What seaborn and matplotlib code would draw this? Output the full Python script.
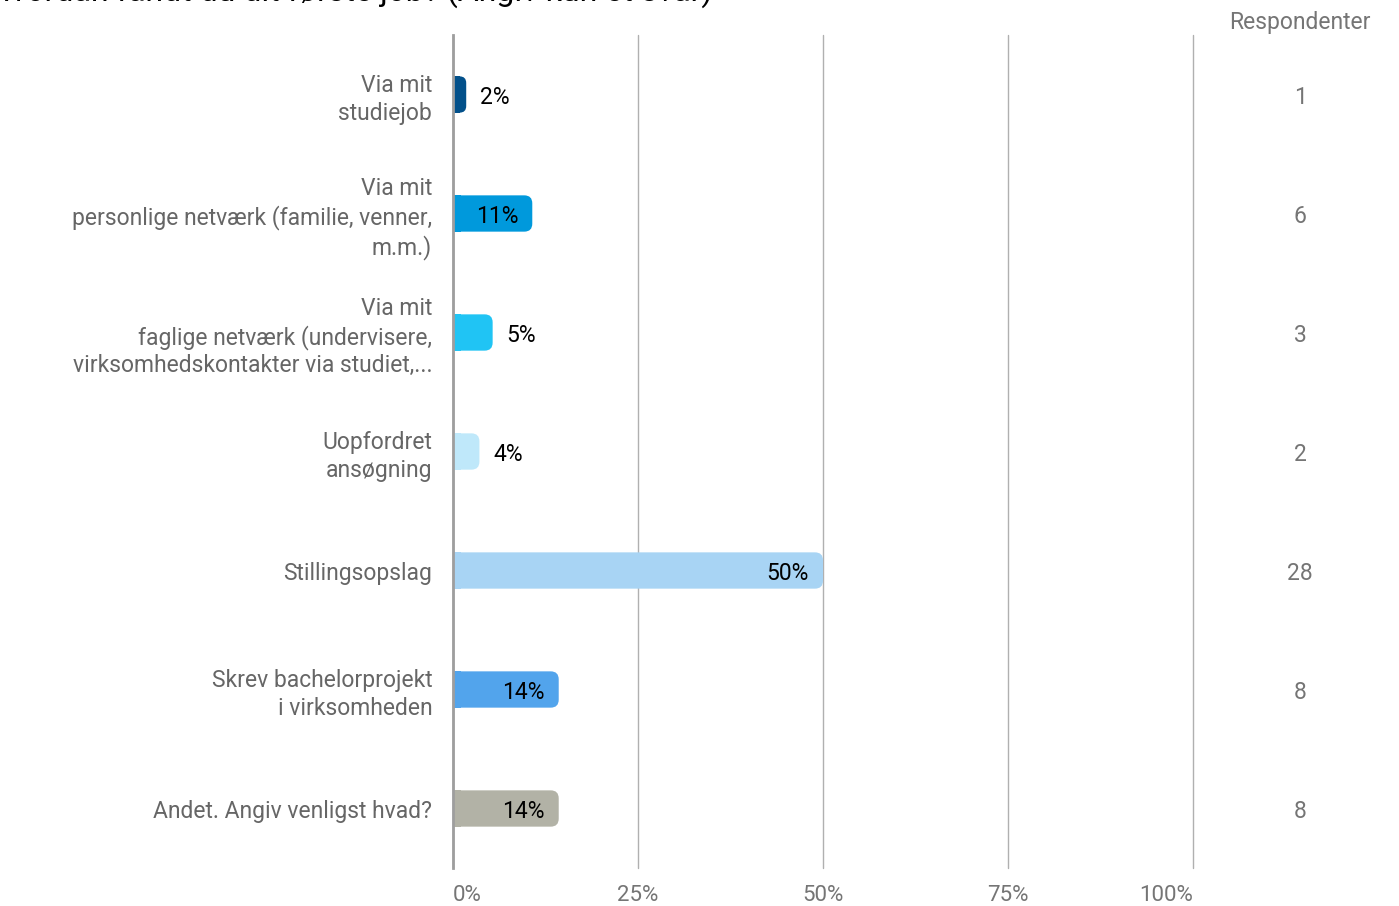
import numpy as np
import pandas as pd
import matplotlib.pyplot as plt
import seaborn as sns
from matplotlib.patches import FancyBboxPatch, Rectangle
import matplotlib.transforms as mtransforms

# data
title = "Hvordan fandt du dit første job? (Angiv kun ét svar)"
categories = [
    "Via mit\nstudiejob",
    "Via mit\npersonlige netværk (familie, venner,\nm.m.)",
    "Via mit\nfaglige netværk (undervisere,\nvirksomhedskontakter via studiet,...",
    "Uopfordret\nansøgning",
    "Stillingsopslag",
    "Skrev bachelorprojekt\ni virksomheden",
    "Andet. Angiv venligst hvad?",
]
respondents = [1, 6, 3, 2, 28, 8, 8]
bar_colors = ["#02508a", "#0099dc", "#20c4f4", "#bfe8fa", "#a8d4f4", "#52a4ec", "#b2b2a6"]
x_ticks = [0, 25, 50, 75, 100]
x_tick_labels = ["0%", "25%", "50%", "75%", "100%"]

total = sum(respondents)
pct = [r / total * 100 for r in respondents]
df = pd.DataFrame({"answer": categories, "pct": pct})

sns.set_theme(style="white")
plt.rcParams['font.family'] = ['Roboto', 'DejaVu Sans']

W, H = 1399, 906
fig = plt.figure(figsize=(W / 100, H / 100), dpi=100)
ax = fig.add_axes([453 / W, 38 / H, 740 / W, 833 / H])

sns.barplot(data=df, x="pct", y="answer", hue="answer", palette=bar_colors,
            legend=False, width=0.305, ax=ax, saturation=1)
ax.set_xlim(0, 100)
ax.set_ylim(6.5, -0.5)

# swap plain rectangles for bars with rounded right ends
px_x = 740 / 100.0
px_y = 833 / 7.0
r_px = 8
for p in list(ax.patches):
    x0, y0 = p.get_x(), p.get_y()
    w, h = p.get_width(), p.get_height()
    col = p.get_facecolor()
    p.remove()
    r = min(r_px / px_x, w / 2)
    aspect = (r_px / px_y) / (r_px / px_x)
    ax.add_patch(FancyBboxPatch((x0, y0), w, h,
                                boxstyle=f"round,pad=0,rounding_size={r}",
                                mutation_aspect=aspect, fc=col, ec="none", zorder=3))
    ax.add_patch(Rectangle((x0, y0), min(w / 2, r + 0.01), h, fc=col, ec="none", zorder=3))

# value labels
off = 14 / px_x
for i, v in enumerate(pct):
    lab = f"{v:.0f}%"
    if v > 8:
        ax.text(v - off, i, lab, ha="right", va="center_baseline", fontsize=16.5, color="black", zorder=4)
    else:
        ax.text(v + off, i, lab, ha="left", va="center_baseline", fontsize=16.5, color="black", zorder=4)

# respondents column
trans = mtransforms.blended_transform_factory(ax.transAxes, ax.transData)
col_x = (1300 - 453) / 740
for i, n in enumerate(respondents):
    ax.text(col_x, i, str(n), transform=trans, ha="center", va="center_baseline",
            fontsize=16.5, color="#757575")
fig.text(1300 / W, 1 - 22 / H, "Respondenter", ha="center", va="center",
         fontsize=16.5, color="#757575")

# title, mostly outside the canvas as in the source
fig.text(-12 / W, 1 - 1 / H, title, ha="left", va="baseline", fontsize=23, color="black")

# axes styling
for s in ["top", "right", "bottom"]:
    ax.spines[s].set_visible(False)
ax.spines["left"].set_color("#9e9e9e")
ax.spines["left"].set_linewidth(2)
ax.spines["left"].set_zorder(5)
ax.set_axisbelow(True)
ax.xaxis.grid(True, color="#b0b0b0", linewidth=1)
ax.yaxis.grid(False)

ax.set_xticks(x_ticks, x_tick_labels)
for g in ax.get_xgridlines():
    g.set_clip_on(False)
ax.tick_params(axis="x", length=0, pad=12, labelsize=16, labelcolor="#757575")
ax.tick_params(axis="y", length=0, pad=15, labelsize=16.5, labelcolor="#666666")
for t in ax.get_yticklabels():
    t.set_linespacing(1.25)
    t.set_y(t.get_position()[1])
xl = ax.get_xticklabels()
xl[0].set_ha("left")
xl[-1].set_ha("right")
ax.set_xlabel("")
ax.set_ylabel("")

fig.savefig("out.png", dpi=100)
